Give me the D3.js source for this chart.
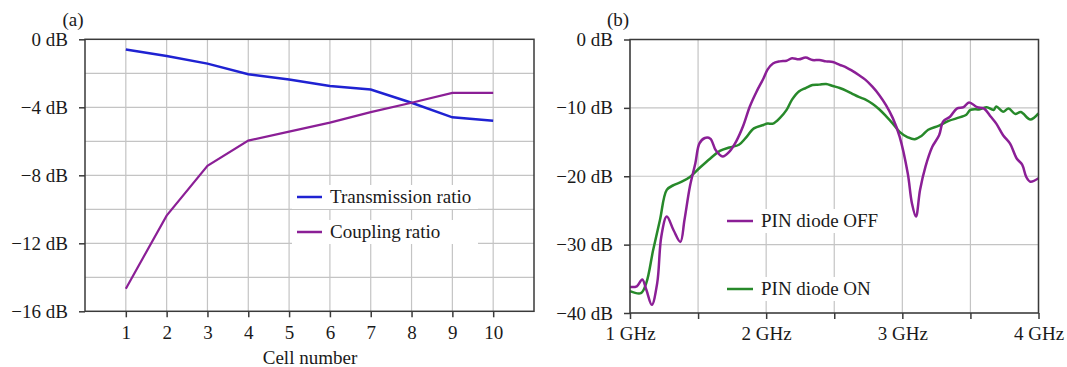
<!DOCTYPE html>
<html>
<head>
<meta charset="utf-8">
<script src="https://cdn.jsdelivr.net/npm/d3@7"></script>
<style>
  body { margin: 0; background: #fff; }
  text { font-family: "Liberation Serif", "Times New Roman", serif; }
</style>
</head>
<body>
<script>
// panel (a)
var cells = [1, 2, 3, 4, 5, 6, 7, 8, 9, 10];
var transmission = [-0.6, -0.98, -1.43, -2.05, -2.36, -2.75, -2.95, -3.73, -4.59, -4.79];
var coupling = [-14.67, -10.37, -7.44, -5.96, -5.43, -4.9, -4.28, -3.73, -3.15, -3.15];
var aTicksY = [0, -4, -8, -12, -16];
var aGridY = [-2, -4, -6, -8, -10, -12, -14];

// panel (b)
var offFreq = [1.00, 1.05, 1.09, 1.12, 1.16, 1.20, 1.23, 1.27, 1.32, 1.37, 1.40, 1.44, 1.48, 1.51, 1.55, 1.59, 1.63, 1.68, 1.73, 1.78, 1.83, 1.88, 1.93, 1.98, 2.01, 2.05, 2.10, 2.15, 2.19, 2.24, 2.29, 2.34, 2.39, 2.44, 2.49, 2.54, 2.59, 2.63, 2.68, 2.73, 2.78, 2.83, 2.88, 2.93, 2.98, 3.04, 3.07, 3.10, 3.13, 3.17, 3.22, 3.27, 3.30, 3.35, 3.40, 3.45, 3.49, 3.55, 3.60, 3.65, 3.69, 3.74, 3.79, 3.84, 3.88, 3.91, 3.94, 4.00];
var offDb = [-36.2, -36.1, -35.1, -36.6, -38.8, -35.6, -28.8, -25.9, -27.9, -29.6, -26.4, -21.5, -18.1, -15.2, -14.4, -14.5, -16.2, -17.1, -16.4, -14.9, -12.7, -9.8, -7.6, -5.7, -4.4, -3.5, -3.2, -3.1, -2.75, -2.9, -2.65, -3.0, -3.0, -3.2, -3.3, -3.7, -4.1, -4.55, -5.2, -5.9, -6.9, -8.1, -9.6, -11.5, -14.2, -19.6, -23.9, -25.9, -22.0, -18.6, -15.7, -14.0, -12.0, -11.3, -10.1, -9.9, -9.2, -9.9, -10.1, -11.3, -12.3, -14.0, -15.2, -17.4, -18.3, -20.1, -20.8, -20.3];
var onFreq = [1.00, 1.08, 1.12, 1.17, 1.22, 1.27, 1.32, 1.38, 1.44, 1.51, 1.59, 1.66, 1.73, 1.80, 1.85, 1.91, 1.98, 2.01, 2.05, 2.10, 2.15, 2.19, 2.24, 2.29, 2.34, 2.39, 2.44, 2.49, 2.54, 2.59, 2.63, 2.68, 2.73, 2.78, 2.83, 2.88, 2.93, 2.98, 3.04, 3.09, 3.14, 3.19, 3.27, 3.34, 3.42, 3.47, 3.50, 3.57, 3.62, 3.67, 3.69, 3.74, 3.78, 3.83, 3.87, 3.94, 4.00];
var onDb = [-36.8, -37.1, -35.6, -30.8, -26.4, -22.0, -21.3, -20.8, -20.1, -18.8, -17.4, -16.3, -15.8, -15.4, -14.4, -13.0, -12.5, -12.3, -12.3, -11.5, -10.3, -8.8, -7.6, -7.1, -6.65, -6.6, -6.5, -6.8, -7.1, -7.5, -7.9, -8.4, -8.8, -9.4, -10.2, -11.2, -12.3, -13.5, -14.3, -14.6, -14.1, -13.2, -12.6, -11.9, -11.4, -11.0, -10.3, -10.2, -9.9, -10.3, -9.8, -10.55, -10.1, -10.9, -10.6, -11.7, -10.8];
var bTicksX = [1, 1.5, 2, 2.5, 3, 3.5, 4];
var bTicksY = [0, -10, -20, -30, -40];

var blue = '#1f22d2', purple = '#8b1f96', green = '#27892a';
var gridColor = '#c4c4c4', frameColor = '#3a3a3a', textColor = '#1a1a1a';
var fontSize = 19;

var svg = d3.select('body').append('svg')
            .attr('width', 1067)
            .attr('height', 367);

var dbFormat = function(d){
  return (d < 0 ? '\u2212' + Math.abs(d) : d) + ' dB';
};

var drawFrame = function(g, w, h){
  g.append('rect')
   .attr('x', 0).attr('y', 0)
   .attr('width', w).attr('height', h)
   .attr('fill', 'none')
   .attr('stroke', frameColor)
   .attr('stroke-width', 1.5);
};

var styleAxis = function(sel){
  sel.selectAll('path').remove();
  sel.selectAll('line').attr('stroke', frameColor).attr('stroke-width', 1.5);
  sel.selectAll('text').attr('font-size', fontSize).attr('fill', textColor)
     .style('font-family', '"Liberation Serif", "Times New Roman", serif');
};

// legend rows sit on white boxes that hide the vertical grid
var drawLegend = function(g, box, items, x0, x1, boxRight){
  items.forEach(function(item){
    var ly = item[2] - box.top;
    g.append('rect')
     .attr('x', x0 - 5 - box.left).attr('y', ly - 12)
     .attr('width', boxRight - x0 + 5).attr('height', 24)
     .attr('fill', '#fff');
    g.append('line')
     .attr('x1', x0 - box.left).attr('x2', x1 - box.left)
     .attr('y1', ly).attr('y2', ly)
     .attr('stroke', item[1]).attr('stroke-width', 2.5);
    g.append('text')
     .attr('x', x1 + 8 - box.left).attr('y', ly + 6)
     .attr('font-size', fontSize).attr('fill', textColor)
     .text(item[0]);
  });
};

// ---------- panel (a) ----------
var aBox = {left:85, top:39.3, right:534, bottom:311.3};
var aw = aBox.right - aBox.left, ah = aBox.bottom - aBox.top;
var ax = d3.scaleLinear().domain([0, 11]).range([0, aw]);
var ay = d3.scaleLinear().domain([-16, 0]).range([ah, 0]);
var ga = svg.append('g').attr('transform', 'translate(' + aBox.left + ',' + aBox.top + ')');

ga.selectAll('.vgrid').data(cells).enter().append('line')
  .attr('x1', function(d){ return ax(d); }).attr('x2', function(d){ return ax(d); })
  .attr('y1', 0).attr('y2', ah)
  .attr('stroke', gridColor).attr('stroke-width', 1.2);
ga.selectAll('.hgrid').data(aGridY).enter().append('line')
  .attr('x1', 0).attr('x2', aw)
  .attr('y1', function(d){ return ay(d); }).attr('y2', function(d){ return ay(d); })
  .attr('stroke', gridColor).attr('stroke-width', 1.2);

drawLegend(ga, aBox, [['Transmission ratio', blue, 197], ['Coupling ratio', purple, 232]], 297, 322, 478);

ga.append('g').attr('transform', 'translate(0,' + ah + ')')
  .call(d3.axisBottom(ax).tickValues(cells).tickSize(6).tickSizeOuter(0).tickPadding(8).tickFormat(d3.format('d')))
  .call(styleAxis);
ga.append('g')
  .call(d3.axisLeft(ay).tickValues(aTicksY).tickSize(6).tickSizeOuter(0).tickPadding(11).tickFormat(dbFormat))
  .call(styleAxis);

var lineA = d3.line()
  .x(function(d){ return ax(d[0]); })
  .y(function(d){ return ay(d[1]); });

ga.append('path')
  .datum(d3.zip(cells, transmission))
  .attr('d', lineA).attr('fill', 'none')
  .attr('stroke', blue).attr('stroke-width', 2.5);
ga.append('path')
  .datum(d3.zip(cells, coupling))
  .attr('d', lineA).attr('fill', 'none')
  .attr('stroke', purple).attr('stroke-width', 2.2);

drawFrame(ga, aw, ah);

svg.append('text').attr('x', 310).attr('y', 364)
   .attr('text-anchor', 'middle').attr('font-size', fontSize).attr('fill', textColor)
   .text('Cell number');
svg.append('text').attr('x', 73).attr('y', 26)
   .attr('text-anchor', 'middle').attr('font-size', fontSize).attr('fill', textColor)
   .text('(a)');

// ---------- panel (b) ----------
var bBox = {left:630, top:39.5, right:1038.5, bottom:313};
var bw = bBox.right - bBox.left, bh = bBox.bottom - bBox.top;
var bx = d3.scaleLinear().domain([1, 4]).range([0, bw]);
var by = d3.scaleLinear().domain([-40, 0]).range([bh, 0]);
var gb = svg.append('g').attr('transform', 'translate(' + bBox.left + ',' + bBox.top + ')');

gb.selectAll('.vgrid').data(bTicksX).enter().append('line')
  .attr('x1', function(d){ return bx(d); }).attr('x2', function(d){ return bx(d); })
  .attr('y1', 0).attr('y2', bh)
  .attr('stroke', gridColor).attr('stroke-width', 1.2);
gb.selectAll('.hgrid').data(bTicksY).enter().append('line')
  .attr('x1', 0).attr('x2', bw)
  .attr('y1', function(d){ return by(d); }).attr('y2', function(d){ return by(d); })
  .attr('stroke', gridColor).attr('stroke-width', 1.2);

drawLegend(gb, bBox, [['PIN diode OFF', purple, 221], ['PIN diode ON', green, 289]], 727, 753, 880);

gb.append('g').attr('transform', 'translate(0,' + bh + ')')
  .call(d3.axisBottom(bx).tickValues(bTicksX).tickSize(6).tickSizeOuter(0).tickPadding(8)
        .tickFormat(function(d){ return d % 1 === 0 ? d + ' GHz' : ''; }))
  .call(styleAxis);
gb.append('g')
  .call(d3.axisLeft(by).tickValues(bTicksY).tickSize(6).tickSizeOuter(0).tickPadding(11).tickFormat(dbFormat))
  .call(styleAxis);

var lineB = d3.line()
  .curve(d3.curveCatmullRom)
  .x(function(d){ return bx(d[0]); })
  .y(function(d){ return by(d[1]); });

gb.append('path')
  .datum(d3.zip(onFreq, onDb))
  .attr('d', lineB).attr('fill', 'none')
  .attr('stroke', green).attr('stroke-width', 2.5);
gb.append('path')
  .datum(d3.zip(offFreq, offDb))
  .attr('d', lineB).attr('fill', 'none')
  .attr('stroke', purple).attr('stroke-width', 2.5);

drawFrame(gb, bw, bh);

svg.append('text').attr('x', 618).attr('y', 26)
   .attr('text-anchor', 'middle').attr('font-size', fontSize).attr('fill', textColor)
   .text('(b)');
</script>
</body>
</html>
